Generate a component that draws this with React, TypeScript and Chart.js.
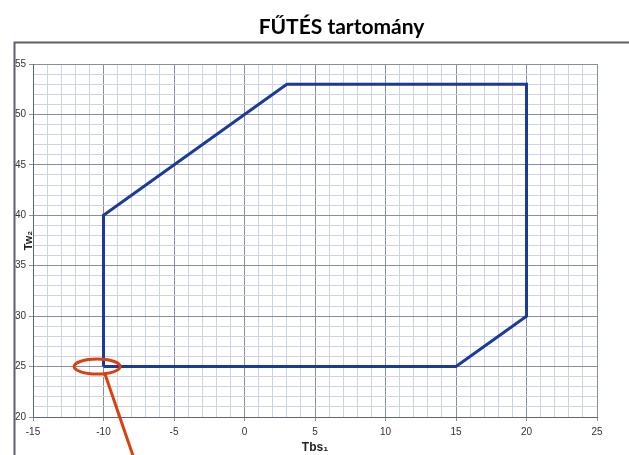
import React, { useEffect, useRef } from 'react';
import { Chart, registerables } from 'chart.js';

Chart.register(...registerables);

// ---- data ----
const chartTitle = 'FŰTÉS tartomány';
const xAxisTitle = 'Tbs₁';
const yAxisTitle = 'Tw₂';
const rangeTbs = [-10, -10, 3, 20, 20, 15, -10];
const rangeTw = [25, 40, 53, 53, 30, 25, 25];
const xLimits = [-15, 25];
const yLimits = [20, 55];
const majorStep = 5;
const minorStep = 1;
const highlightTbs = -10.45;
const highlightTw = 25;

// ---- styles ----
const MAJOR = '#878ea2';
const MINOR = '#cbd3e6';
const LINE = '#1b3a9a';
const RED = '#d8420f';
const FRAME = '#5b606c';

export default function App() {
  const ref = useRef<HTMLCanvasElement>(null);

  useEffect(() => {
    const canvas = ref.current;
    if (!canvas) return;

    const decor = {
      id: 'decor',
      afterLayout(chart: any) {
        const t = chart.titleBlock;
        if (t) {
          const shift = 341.5 - (t.left + t.right) / 2;
          t.left += shift;
          t.right += shift;
        }
      },
      afterDatasetsDraw(chart: any) {
        const { ctx, scales } = chart;
        const cx = scales.x.getPixelForValue(highlightTbs);
        const cy = scales.y.getPixelForValue(highlightTw);
        ctx.save();
        ctx.strokeStyle = RED;
        ctx.lineWidth = 3;
        ctx.beginPath();
        ctx.ellipse(cx, cy, 23, 7.5, 0, 0, Math.PI * 2);
        ctx.stroke();
        ctx.beginPath();
        ctx.moveTo(cx + 8, cy + 8);
        ctx.lineTo(cx + 37, chart.height + 4);
        ctx.stroke();
        ctx.restore();
      },
      afterDraw(chart: any) {
        const { ctx } = chart;
        ctx.save();
        ctx.strokeStyle = FRAME;
        ctx.lineWidth = 2;
        ctx.beginPath();
        ctx.moveTo(14.5, chart.height + 2);
        ctx.lineTo(14.5, 42.5);
        ctx.lineTo(chart.width + 2, 42.5);
        ctx.stroke();
        ctx.restore();
      },
    };

    const isMajor = (v: number) => Math.abs(v % majorStep) < 1e-9;

    const chart = new Chart(canvas, {
      type: 'scatter',
      data: {
        datasets: [
          {
            data: rangeTbs.map((x, i) => ({ x, y: rangeTw[i] })),
            showLine: true,
            borderColor: LINE,
            backgroundColor: LINE,
            borderWidth: 3,
            pointRadius: 0,
            tension: 0,
            fill: false,
          },
        ],
      },
      options: {
        responsive: false,
        animation: false,
        layout: { padding: { left: 0, right: 32, top: 0, bottom: 0 } },
        plugins: {
          legend: { display: false },
          tooltip: { enabled: false },
          title: {
            display: true,
            text: chartTitle,
            color: '#000',
            font: { family: 'Lato', weight: 'bold', size: 21, lineHeight: 1.2 },
            padding: { top: 15, bottom: 23.8 },
          },
        },
        scales: {
          x: {
            type: 'linear',
            min: xLimits[0],
            max: xLimits[1],
            afterFit: (s: any) => {
              s.height = 38;
            },
            ticks: {
              stepSize: minorStep,
              autoSkip: false,
              maxRotation: 0,
              padding: 5,
              color: '#333',
              font: { family: 'Liberation Sans', size: 10 },
              callback: (v: any) => (isMajor(Number(v)) ? String(v) : ''),
            },
            grid: {
              color: (c: any) => (isMajor(c.tick.value) ? MAJOR : MINOR),
              tickColor: (c: any) => (isMajor(c.tick.value) ? MAJOR : 'rgba(0,0,0,0)'),
              tickLength: 4,
              lineWidth: 1,
            },
            border: { display: true, color: '#5f6679', width: 1 },
            title: {
              display: true,
              text: xAxisTitle,
              color: '#222',
              font: { family: 'Liberation Sans', weight: 'bold', size: 12 },
              padding: { top: 0, bottom: 0 },
            },
          },
          y: {
            type: 'linear',
            min: yLimits[0],
            max: yLimits[1],
            afterFit: (s: any) => {
              s.width = 33;
            },
            ticks: {
              stepSize: minorStep,
              autoSkip: false,
              padding: 3,
              color: '#333',
              font: { family: 'Liberation Sans', size: 10 },
              callback: (v: any) => (isMajor(Number(v)) ? String(v) : ''),
            },
            grid: {
              color: (c: any) => (isMajor(c.tick.value) ? MAJOR : MINOR),
              tickColor: (c: any) => (isMajor(c.tick.value) ? MAJOR : 'rgba(0,0,0,0)'),
              tickLength: 4,
              lineWidth: 1,
            },
            border: { display: true, color: '#5f6679', width: 1 },
            title: {
              display: true,
              text: yAxisTitle,
              color: '#222',
              font: { family: 'Liberation Sans', weight: 'bold', size: 11 },
              padding: { top: 22, bottom: 0 },
            },
          },
        },
      },
      plugins: [decor],
    } as any);

    return () => chart.destroy();
  }, []);

  return (
    <div style={{ position: 'absolute', left: 0, top: 0, width: 629, height: 455, background: '#fff' }}>
      <canvas ref={ref} width={629} height={455} style={{ display: 'block', width: 629, height: 455 }} />
    </div>
  );
}
